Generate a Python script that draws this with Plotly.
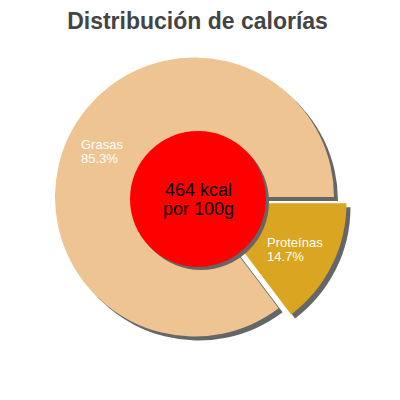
import math
import plotly.graph_objects as go

# values
labels = ["Proteínas", "Grasas"]
percent = [14.7, 85.3]
colors = ["#DAA520", "#EDC492"]
pulls = [0.1, 0]
kcal = 464
title = "Distribución de calorías"

W = H = 400
OFF = 8  # page body margin shifts the plot, compensate
cx, cy = 194.5 - OFF, 197 - OFF  # pie centre in px (from top-left)
radius = 139.5
box = 2 * radius * (1 + max(pulls))
shadow = 4
font = "Liberation Sans, Arial, sans-serif"


def domain(dx=0, dy=0):
    return dict(
        x=[(cx + dx - box / 2) / W, (cx + dx + box / 2) / W],
        y=[1 - (cy + dy + box / 2) / H, 1 - (cy + dy - box / 2) / H],
    )


def pie(cols, dom):
    return go.Pie(
        labels=labels,
        values=percent,
        sort=False,
        direction="clockwise",
        rotation=90,
        pull=pulls,
        marker=dict(colors=cols, line=dict(width=0)),
        textinfo="none",
        hoverinfo="label+percent",
        showlegend=False,
        domain=dom,
    )


def text_lines(x, y, lines, size, color, gap):
    # one annotation per line so the line gap can be kept tight
    out = []
    n = len(lines)
    for i, t in enumerate(lines):
        out.append(dict(
            x=x, y=y, xref="paper", yref="paper", text=t, showarrow=False,
            xanchor="center", yanchor="middle", yshift=((n - 1) / 2 - i) * gap,
            font=dict(family=font, size=size, color=color),
        ))
    return out


fig = go.Figure()
fig.add_trace(pie(["#666666"] * len(labels), domain(shadow, shadow)))
fig.add_trace(pie(colors, domain()))

# slice labels along each slice's bisector (left-aligned block)
annotations = []
total = sum(percent)
start = 0
for lab, val, p in zip(labels, percent, pulls):
    mid = math.radians((start + val / 2) / total * 360)
    start += val
    dist = (p + 0.74) * radius
    x = (cx + dist * math.cos(mid)) / W
    y = 1 - (cy + dist * math.sin(mid)) / H
    for i, t in enumerate([lab, f"{val}%"]):
        annotations.append(dict(
            x=x, y=y, xref="paper", yref="paper", text=t, showarrow=False,
            xanchor="left", yanchor="middle", xshift=-len(lab) * 3.8, yshift=(0.5 - i) * 14,
            font=dict(family=font, size=13, color="white"),
        ))

# red centre disc
rx, ry, rr = 198 - OFF, 199 - OFF, 68
shapes = [
    dict(type="circle", xref="paper", yref="paper", layer="above",
         x0=(rx - rr + 3) / W, x1=(rx + rr + 3) / W,
         y0=1 - (ry + rr + 3) / H, y1=1 - (ry - rr + 3) / H,
         fillcolor="#666666", line=dict(width=0)),
    dict(type="circle", xref="paper", yref="paper", layer="above",
         x0=(rx - rr) / W, x1=(rx + rr) / W,
         y0=1 - (ry + rr) / H, y1=1 - (ry - rr) / H,
         fillcolor="#FF0000", line=dict(width=0)),
]
annotations += text_lines(rx / W, 1 - ry / H, [f"{kcal} kcal", "por 100g"], 18, "black", 19)

fig.update_layout(
    width=W,
    height=H,
    margin=dict(l=0, r=0, t=0, b=0),
    paper_bgcolor="white",
    title=dict(text=f"<b>{title}</b>", x=(197.5 - OFF) / W, y=1 - (21 - OFF) / H,
               xanchor="center", yanchor="middle",
               font=dict(family=font, size=23, color="#444444")),
    shapes=shapes,
    annotations=annotations,
)

fig.write_html("out.html")
